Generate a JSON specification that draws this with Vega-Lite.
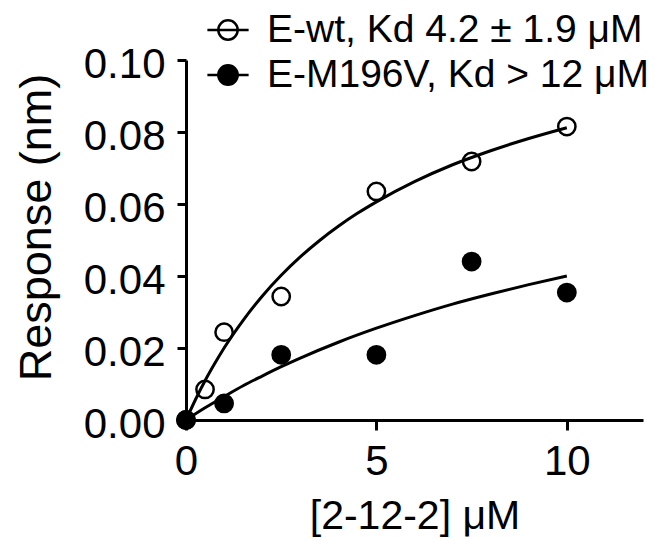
{
  "$schema": "https://vega.github.io/schema/vega-lite/v6.json",
  "width": 457,
  "height": 360,
  "autosize": {"type": "none"},
  "padding": {"left": 186, "top": 60, "right": 14, "bottom": 119},
  "background": "white",
  "config": {
    "view": {"stroke": null},
    "font": "Liberation Sans",
    "axis": {
      "grid": false,
      "domainColor": "black",
      "domainWidth": 3,
      "tickColor": "black",
      "tickWidth": 3,
      "labelColor": "black",
      "titleColor": "black",
      "labelFont": "Liberation Sans",
      "titleFont": "Liberation Sans",
      "titleFontWeight": "normal"
    }
  },
  "datasets": {
    "obs": [
      {"conc": 0, "response": 0, "series": "E-wt, Kd  4.2 ± 1.9 μM"},
      {"conc": 0.5, "response": 0.0085, "series": "E-wt, Kd  4.2 ± 1.9 μM"},
      {"conc": 1, "response": 0.0244, "series": "E-wt, Kd  4.2 ± 1.9 μM"},
      {"conc": 2.5, "response": 0.0343, "series": "E-wt, Kd  4.2 ± 1.9 μM"},
      {"conc": 5, "response": 0.0635, "series": "E-wt, Kd  4.2 ± 1.9 μM"},
      {"conc": 7.5, "response": 0.0718, "series": "E-wt, Kd  4.2 ± 1.9 μM"},
      {"conc": 10, "response": 0.0815, "series": "E-wt, Kd  4.2 ± 1.9 μM"},
      {"conc": 0, "response": 0, "series": "E-M196V, Kd > 12 μM"},
      {"conc": 1, "response": 0.0046, "series": "E-M196V, Kd > 12 μM"},
      {"conc": 2.5, "response": 0.0181, "series": "E-M196V, Kd > 12 μM"},
      {"conc": 5, "response": 0.0181, "series": "E-M196V, Kd > 12 μM"},
      {"conc": 7.5, "response": 0.044, "series": "E-M196V, Kd > 12 μM"},
      {"conc": 10, "response": 0.0354, "series": "E-M196V, Kd > 12 μM"}
    ],
    "fit": [
      {"conc": 0, "response": 0, "series": "wt"},
      {"conc": 0.25, "response": 0.0057, "series": "wt"},
      {"conc": 0.5, "response": 0.0109, "series": "wt"},
      {"conc": 0.75, "response": 0.0156, "series": "wt"},
      {"conc": 1, "response": 0.02, "series": "wt"},
      {"conc": 1.5, "response": 0.0277, "series": "wt"},
      {"conc": 2, "response": 0.0344, "series": "wt"},
      {"conc": 2.5, "response": 0.0402, "series": "wt"},
      {"conc": 3, "response": 0.0453, "series": "wt"},
      {"conc": 3.5, "response": 0.0498, "series": "wt"},
      {"conc": 4, "response": 0.0538, "series": "wt"},
      {"conc": 4.5, "response": 0.0574, "series": "wt"},
      {"conc": 5, "response": 0.0606, "series": "wt"},
      {"conc": 6, "response": 0.0662, "series": "wt"},
      {"conc": 7, "response": 0.0709, "series": "wt"},
      {"conc": 8, "response": 0.0748, "series": "wt"},
      {"conc": 9, "response": 0.0782, "series": "wt"},
      {"conc": 10, "response": 0.0812, "series": "wt"},
      {"conc": 0, "response": 0, "series": "m196v"},
      {"conc": 0.5, "response": 0.0034, "series": "m196v"},
      {"conc": 1, "response": 0.0065, "series": "m196v"},
      {"conc": 1.5, "response": 0.0095, "series": "m196v"},
      {"conc": 2, "response": 0.0122, "series": "m196v"},
      {"conc": 2.5, "response": 0.0148, "series": "m196v"},
      {"conc": 3, "response": 0.0172, "series": "m196v"},
      {"conc": 4, "response": 0.0216, "series": "m196v"},
      {"conc": 5, "response": 0.0255, "series": "m196v"},
      {"conc": 6, "response": 0.029, "series": "m196v"},
      {"conc": 7, "response": 0.0322, "series": "m196v"},
      {"conc": 8, "response": 0.035, "series": "m196v"},
      {"conc": 9, "response": 0.0376, "series": "m196v"},
      {"conc": 10, "response": 0.04, "series": "m196v"}
    ]
  },
  "encoding": {
    "x": {
      "field": "conc",
      "type": "quantitative",
      "scale": {"domain": [0, 12], "nice": false, "zero": false},
      "axis": {
        "title": "[2-12-2] μM",
        "values": [0, 5, 10],
        "format": "d",
        "labelFontSize": 42,
        "labelPadding": 11,
        "tickSize": 10,
        "labelFlush": false,
        "labelOverlap": false,
        "titleFontSize": 41,
        "titleBaseline": "alphabetic",
        "titleY": 108,
        "titleX": 228.5,
        "titleAnchor": "middle"
      }
    },
    "y": {
      "field": "response",
      "type": "quantitative",
      "scale": {"domain": [0, 0.1], "nice": false},
      "axis": {
        "title": "Response (nm)",
        "values": [0, 0.02, 0.04, 0.06, 0.08, 0.1],
        "format": ".2f",
        "labelFontSize": 42,
        "labelPadding": 12,
        "labelOffset": 4,
        "tickSize": 9,
        "labelFlush": false,
        "labelOverlap": false,
        "titleFontSize": 45,
        "titleBaseline": "alphabetic",
        "titleAngle": -90,
        "titleX": -136,
        "titleY": 167,
        "titleAlign": "center"
      }
    }
  },
  "layer": [
    {
      "data": {"name": "fit"},
      "mark": {"type": "line", "color": "black", "strokeWidth": 3, "interpolate": "monotone"},
      "encoding": {"detail": {"field": "series"}}
    },
    {
      "data": {"name": "obs"},
      "mark": {"type": "point", "shape": "circle", "filled": true, "size": 300, "stroke": "black", "strokeWidth": 2.5, "opacity": 1},
      "encoding": {
        "fill": {
          "field": "series",
          "type": "nominal",
          "scale": {
            "domain": ["E-wt, Kd  4.2 ± 1.9 μM", "E-M196V, Kd > 12 μM"],
            "range": ["transparent", "black"]
          },
          "legend": {
            "title": null,
            "orient": "none",
            "legendX": 20,
            "legendY": -52,
            "padding": 0,
            "symbolType": "M-1,0H1M-0.47,0A0.47,0.47 0 1,0 0.47,0A0.47,0.47 0 1,0 -0.47,0Z",
            "symbolSize": 1700,
            "symbolStrokeColor": "black",
            "symbolStrokeWidth": 2.5,
            "symbolOpacity": 1,
            "labelFontSize": 39,
            "labelFont": "Liberation Sans",
            "labelColor": "black",
            "labelOffset": 17,
            "labelLimit": 0,
            "rowPadding": 3
          }
        }
      }
    }
  ]
}
